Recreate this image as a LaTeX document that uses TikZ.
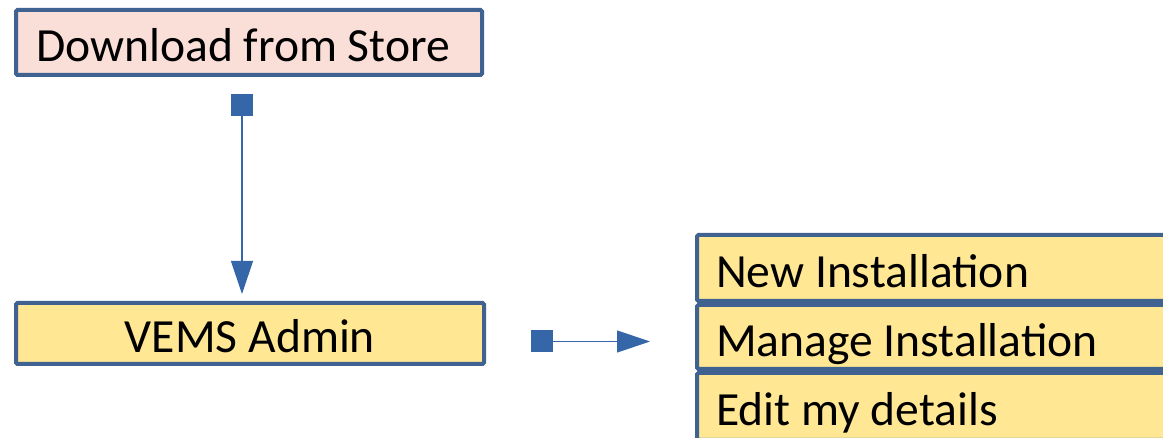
\documentclass[tikz,border=0pt]{standalone}
\usepackage{fontspec}
\setmainfont{Carlito}
\usetikzlibrary{arrows.meta,calc}
\definecolor{boxblue}{HTML}{3F6290}
\definecolor{connblue}{HTML}{3566A8}
\definecolor{pinkfill}{HTML}{FADED8}
\definecolor{yellowfill}{HTML}{FFE794}
\newcommand{\lbox}[2]{\makebox[#1][l]{#2}}
\begin{document}
\begin{tikzpicture}[x=1pt,y=-1pt,
  box/.style={draw=boxblue, line width=4pt, rounded corners=1.5pt, inner sep=0pt,
    font=\fontsize{47.6}{52}\selectfont, text height=39pt, text depth=0pt},
  menubox/.style={box, fill=yellowfill, anchor=west, inner xsep=19pt},
  conn/.style={draw=connblue, line width=1.2pt,
    {Square[length=22pt,width=22pt]}-{Triangle[length=33pt,width=22pt]}}]
\useasboundingbox (0,0) rectangle (1163,438);
\clip (0,0) rectangle (1163,438);
\node[box, fill=pinkfill, inner xsep=20pt, minimum height=65pt] (dl) at (249,42.5) {\lbox{426pt}{Download from Store}};
\node[box, fill=yellowfill, minimum width=468pt, minimum height=61pt] (vems) at (250,333.5) {VEMS Admin};
\node[menubox, minimum height=66pt] (m1) at (695,268) {\lbox{470pt}{New Installation}};
\node[menubox, minimum height=64pt] (m2) at (695,337) {\lbox{470pt}{Manage Installation}};
\node[menubox, minimum height=67pt] (m3) at (695,406.5) {\lbox{470pt}{Edit my details}};
\draw[conn, shorten <=17pt, shorten >=7pt] ($(dl.south)+(-7,0)$) -- ($(vems.north)+(-8,0)$);
\draw[conn, shorten <=45pt, shorten >=45pt] ($(vems.east)+(0,8)$) -- ($(m2.west)+(0,4.5)$);
\end{tikzpicture}
\end{document}
